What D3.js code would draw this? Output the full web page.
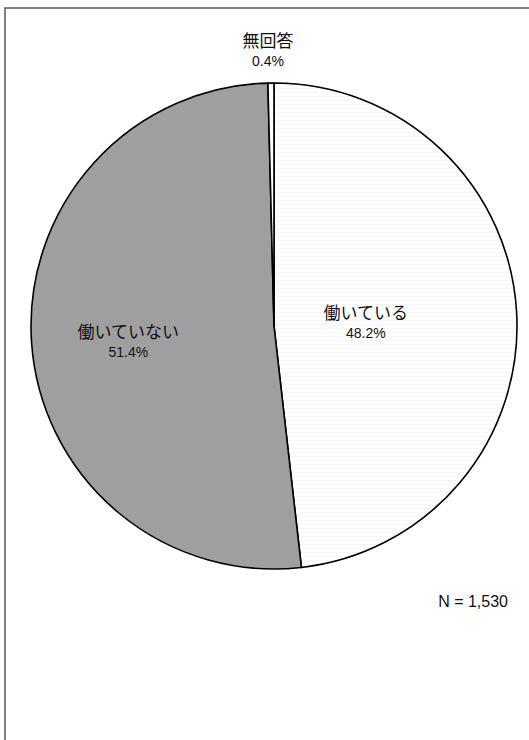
<!DOCTYPE html>
<html>
<head>
<meta charset="utf-8">
<script src="https://cdn.jsdelivr.net/npm/d3@7/dist/d3.min.js"></script>
<style>
  html, body { margin: 0; padding: 0; background: #fff; }
  svg { display: block; }
</style>
</head>
<body>
<svg id="chart" width="529" height="740"></svg>
<script>
// Employment status of respondents
const categories = ["働いている", "働いていない", "無回答"];
const shares = [48.2, 51.4, 0.4];
const sampleLabel = "N = 1,530";

const W = 529, H = 740;
const cx = 274, cy = 326, R = 243;
const fills = ["url(#stripes)", "#9f9f9f", "#ffffff"];

const svg = d3.select("#chart");

// faint horizontal banding on the light slice
const defs = svg.append("defs");
const pat = defs.append("pattern")
  .attr("id", "stripes").attr("patternUnits", "userSpaceOnUse")
  .attr("width", 8).attr("height", 4);
pat.append("rect").attr("width", 8).attr("height", 4).attr("fill", "#ffffff");
pat.append("rect").attr("y", 2).attr("width", 8).attr("height", 1).attr("fill", "#f6f6f6");

// frame
svg.append("rect")
  .attr("x", 5).attr("y", 8).attr("width", W + 10).attr("height", H + 10)
  .attr("fill", "none").attr("stroke", "#555").attr("stroke-width", 1.5);

const pie = d3.pie().value(d => d).sort(null);
const arcs = pie(shares);
const arc = d3.arc().innerRadius(0).outerRadius(R);

const g = svg.append("g").attr("transform", `translate(${cx},${cy})`);

g.selectAll("path.slice")
  .data(arcs)
  .join("path")
  .attr("class", "slice")
  .attr("d", arc)
  .attr("fill", (d, i) => fills[i])
  .attr("stroke", "#000")
  .attr("stroke-width", 1.6)
  .attr("stroke-linejoin", "round");

// label radius per slice (the tiny slice is labelled outside the rim)
const labelR = [92, 148, R + 32];
const labelShift = [[0, 2], [2, 6], [0, 0]];
const jp = "'Noto Sans CJK JP', 'Noto Sans', sans-serif";
const num = "'Liberation Sans', Arial, sans-serif";

arcs.forEach((d, i) => {
  const a = (d.startAngle + d.endAngle) / 2;
  let x = Math.sin(a) * labelR[i] + labelShift[i][0];
  let y = -Math.cos(a) * labelR[i] + labelShift[i][1];
  if (i === 2) { x = -6; y = -labelR[i]; }
  const t = g.append("g").attr("transform", `translate(${x},${y})`);
  t.append("text")
    .attr("text-anchor", "middle").attr("y", -4)
    .attr("font-family", jp).attr("font-size", 17)
    .attr("fill", "#111")
    .text(categories[i]);
  t.append("text")
    .attr("text-anchor", "middle").attr("y", 15)
    .attr("font-family", num).attr("font-size", 14).attr("fill", "#111")
    .text(d3.format(".1f")(shares[i]) + "%");
});

svg.append("text")
  .attr("x", 508).attr("y", 607).attr("text-anchor", "end")
  .attr("font-family", num).attr("font-size", 16).attr("fill", "#111")
  .text(sampleLabel);
</script>
</body>
</html>
